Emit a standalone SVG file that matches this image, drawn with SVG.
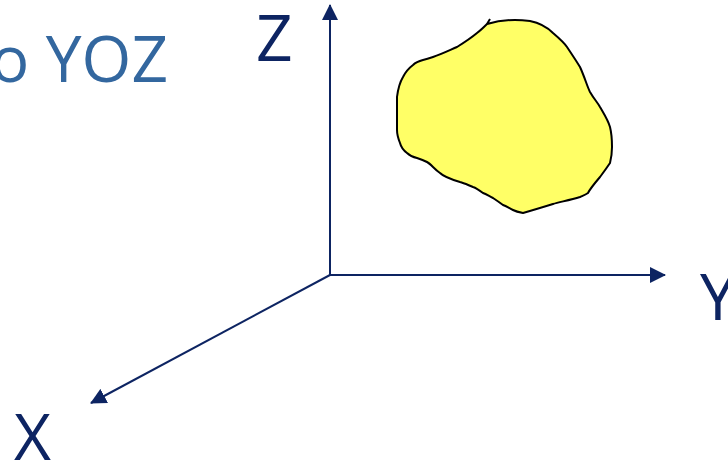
<svg xmlns="http://www.w3.org/2000/svg" width="728" height="464" viewBox="0 0 728 464">
<style>
.axis{stroke:#0D2462;stroke-width:2;fill:none}
.lbl{font-family:"Open Sans","Liberation Sans",sans-serif;fill:#0D2462}
.title{font-family:"Open Sans","Liberation Sans",sans-serif;fill:#33679F}
</style>
<defs>
<marker id="ah" viewBox="0 0 16 16" refX="15" refY="8" markerWidth="16" markerHeight="16" markerUnits="userSpaceOnUse" orient="auto">
<path d="M0,0 L16,8 L0,16 Z" fill="#0D2462"/>
</marker>
</defs>
<text class="title" x="168" y="82" font-size="64" text-anchor="end">o YOZ</text>
<g id="connectors">
<line class="axis" x1="330" y1="275" x2="330" y2="5" marker-end="url(#ah)"/>
<line class="axis" x1="330" y1="275" x2="665" y2="275" marker-end="url(#ah)"/>
<line class="axis" x1="330" y1="275" x2="91" y2="403" marker-end="url(#ah)"/>
</g>
<g id="z-label"><text class="lbl" x="256" y="61" font-size="64">Z</text></g>
<g id="y-label"><text class="lbl" x="700" y="320" font-size="64">Y</text></g>
<g id="x-label"><text class="lbl" x="14" y="460" font-size="64">X</text></g>
<g id="blob">
<path d="M490,19 L487,24 C500,20 515,19 530,21 C540,23 548,28 553,33 C560,39 565,44 567,47 C573,56 577,62 580,67 C585,78 587,86 590,92 C594,99 598,103 600,107 C604,114 608,120 610,127 C612,135 612,142 612,147 C612,153 611,159 610,163 C606,169 603,173 600,177 C594,184 590,189 588,193 C585,195 582,196 580,197 C570,200 560,202 553,204 C540,208 530,211 523,213 C518,212 515,211 513,210 C509,208 506,206 503,205 C499,202 496,200 493,198 C489,196 486,194 483,193 C479,190 476,188 473,187 C468,185 464,183 460,182 C450,179 444,177 440,173 C437,171 435,169 433,167 C430,164 429,163 427,162 C423,160 420,159 417,158 C412,157 409,155 407,153 C403,150 401,147 400,143 C398,138 397,134 397,130 C397,118 397,108 397,97 C398,89 400,82 403,77 C406,71 409,68 413,65 C416,62 419,61 423,60 C427,59 430,58 433,57 C442,54 450,50 457,47 C465,42 471,38 477,33 C481,30 484,27 487,24" fill="#FFFF66" stroke="#000" stroke-width="2" stroke-linejoin="round"/>
</g>
</svg>
